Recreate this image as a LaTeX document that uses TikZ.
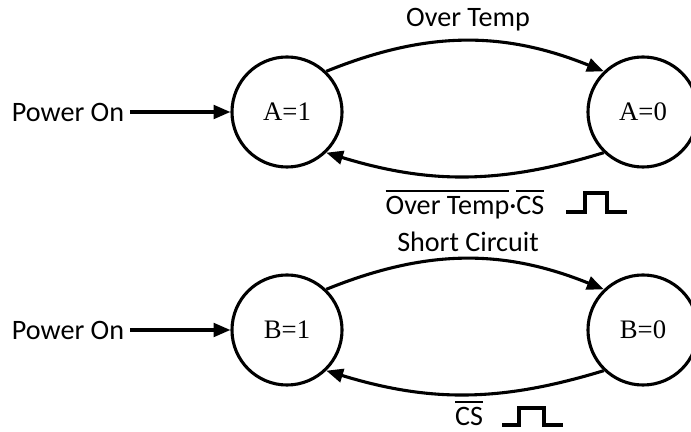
\documentclass[tikz,border=0pt]{standalone}
\usepackage{fontspec}
\setmainfont{Carlito}
\newfontfamily\statefont{Liberation Serif}
\usetikzlibrary{arrows.meta}
\newcommand\negsig[1]{\setbox0\hbox{#1}\rlap{\rule[0.8em]{\wd0}{1.4pt}}\box0}

\begin{document}
\begin{tikzpicture}[x=0.025cm, y=0.025cm, line width=2.2pt,
  state/.style={draw, circle, minimum size=2.75cm, inner sep=0pt, font=\statefont\fontsize{19}{22}\selectfont},
  lbl/.style={font=\fontsize{20}{24}\selectfont, inner sep=3pt},
  trans/.style={-{Triangle[length=0.42cm, width=0.34cm]}}]
  \useasboundingbox (0,0) rectangle (691,432);
  % over temperature
  \node[state] (A1) at (287,320) {A=1};
  \node[state] (A0) at (643,320) {A=0};
  \node[lbl] (pon1) at (68,320) {Power On};
  \draw[trans] (pon1) -- (A1);
  \draw[trans] (A1.46) to[bend left=22] (A0.134);
  \draw[trans] (A0.-134) to[bend left=17] (A1.-46);
  \node[lbl] (ot) at (468,412) {Over Temp};
  \node[lbl] (otcs) at (465,227) {\negsig{Over Temp}·\negsig{CS}};
  \coordinate (pulse1) at (566,220);
  \draw (pulse1) -- ++(19,0) -- ++(0,19) -- ++(22,0) -- ++(0,-19) -- ++(20,0);
  % short circuit
  \node[state] (B1) at (287,102) {B=1};
  \node[state] (B0) at (643,102) {B=0};
  \node[lbl] (pon2) at (68,102) {Power On};
  \draw[trans] (pon2) -- (B1);
  \draw[trans] (B1.46) to[bend left=22] (B0.134);
  \draw[trans] (B0.-134) to[bend left=17] (B1.-46);
  \node[lbl] (sc) at (468,190) {Short Circuit};
  \node[lbl] (cs) at (469,19) {\negsig{CS}};
  \coordinate (pulse2) at (502,7);
  \draw (pulse2) -- ++(17,0) -- ++(0,17) -- ++(25,0) -- ++(0,-17) -- ++(19,0);
\end{tikzpicture}
\end{document}
